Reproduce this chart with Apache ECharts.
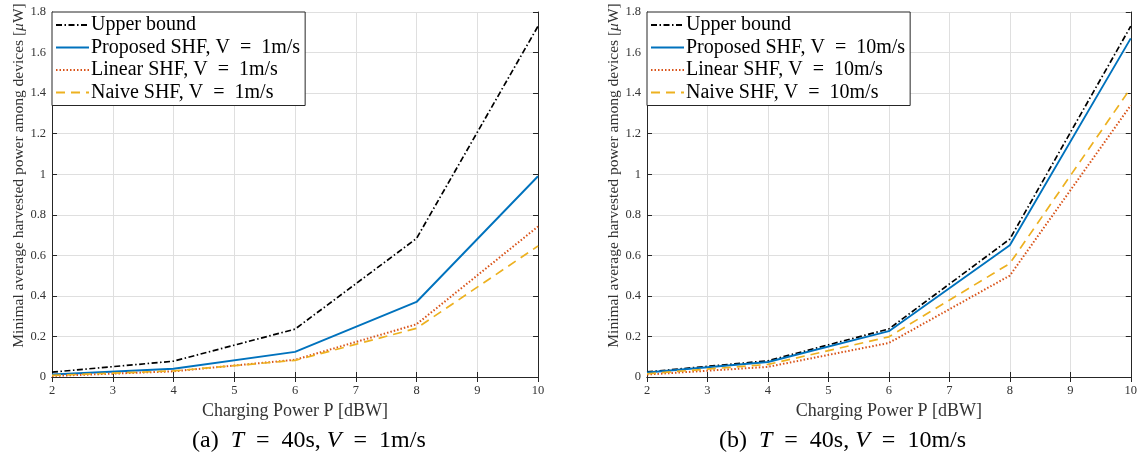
<!DOCTYPE html>
<html>
<head>
<meta charset="utf-8">
<script src="https://cdn.jsdelivr.net/npm/echarts@6/dist/echarts.min.js"></script>
<style>
html,body{margin:0;padding:0;background:#fff;}
#main{width:1140px;height:461px;}
</style>
</head>
<body>
<div id="main"></div>
<script>
// charging power P [dBW]
var power = [2, 4, 6, 8, 10];

// (a) V = 1m/s
var upperA    = [0.024, 0.078, 0.236, 0.683, 1.73];
var proposedA = [0.012, 0.041, 0.124, 0.37, 0.99];
var linearA   = [0.005, 0.028, 0.085, 0.26, 0.742];
var naiveA    = [0.008, 0.03, 0.082, 0.24, 0.646];

// (b) V = 10m/s
var upperB    = [0.025, 0.08, 0.237, 0.68, 1.73];
var proposedB = [0.022, 0.074, 0.226, 0.65, 1.67];
var linearB   = [0.012, 0.05, 0.168, 0.5, 1.34];
var naiveB    = [0.016, 0.062, 0.198, 0.56, 1.425];

var xTicks = [2, 3, 4, 5, 6, 7, 8, 9, 10];
var yTicks = [0, 0.2, 0.4, 0.6, 0.8, 1, 1.2, 1.4, 1.6, 1.8];

var FONT = 'Liberation Serif';
var C_BLUE = '#0072BD', C_ORANGE = '#D95319', C_YELLOW = '#EDB120';
var EQ = '\u2002=\u2002';   // latex-like spacing round "="

function pairs(ys){
	var out = [];
	for (var i = 0; i < power.length; i++) out.push([power[i], ys[i]]);
	return out;
}

function line(name, ys, idx, color, dash, w){
	return {
		name: name, type: 'line', xAxisIndex: idx, yAxisIndex: idx,
		data: pairs(ys), symbol: 'none', showSymbol: false, silent: true,
		lineStyle: {color: color, width: w || 1.7, type: dash},
		itemStyle: {color: color}
	};
}

function xAx(idx){
	return {
		type: 'value', gridIndex: idx, min: xTicks[0], max: xTicks[xTicks.length-1], interval: 1,
		name: 'Charging Power P [dBW]', nameLocation: 'middle', nameGap: 20,
		nameTextStyle: {fontFamily: FONT, fontSize: 18, color: '#333'},
		axisLine: {lineStyle: {color: '#262626', width: 1}},
		axisTick: {inside: true, length: 5, lineStyle: {color: '#262626'}},
		axisLabel: {fontFamily: FONT, fontSize: 12.5, color: '#333', margin: 7},
		splitLine: {show: true, lineStyle: {color: '#dfdfdf', width: 1}}
	};
}
function xTop(idx){
	return {
		type: 'value', gridIndex: idx, position: 'top', min: 2, max: 10, interval: 1,
		axisLine: {show: true, lineStyle: {color: '#262626', width: 1}},
		axisTick: {inside: true, length: 5, lineStyle: {color: '#262626'}},
		axisLabel: {show: false}, splitLine: {show: false}
	};
}
function yAx(idx){
	return {
		type: 'value', gridIndex: idx, min: yTicks[0], max: yTicks[yTicks.length-1], interval: 0.2,
		name: '{a|Minimal average harvested power among devices [}{i|μ}{a|W]}',
		nameLocation: 'middle', nameGap: 24, nameRotate: 90,
		nameTextStyle: {padding: [0, 0, 0, 38], rich: {
			a: {fontFamily: FONT, fontSize: 15.5, color: '#333'},
			i: {fontFamily: FONT, fontSize: 15.5, color: '#333', fontStyle: 'italic'}
		}},
		axisLine: {show: true, lineStyle: {color: '#262626', width: 1}},
		axisTick: {show: true, inside: true, length: 5, lineStyle: {color: '#262626'}},
		axisLabel: {fontFamily: FONT, fontSize: 12.5, color: '#333', margin: 6},
		splitLine: {show: true, lineStyle: {color: '#dfdfdf', width: 1}}
	};
}
function yRight(idx){
	return {
		type: 'value', gridIndex: idx, position: 'right', min: 0, max: 1.8, interval: 0.2,
		axisLine: {show: true, lineStyle: {color: '#262626', width: 1}},
		axisTick: {show: true, inside: true, length: 5, lineStyle: {color: '#262626'}},
		axisLabel: {show: false}, splitLine: {show: false}
	};
}
function legend(left, names){
	return {
		orient: 'vertical', left: left, top: 12,
		data: names, itemWidth: 33, itemHeight: 12, itemGap: 2.5,
		padding: [3, 5, 3, 3],
		backgroundColor: '#fff', borderColor: '#262626', borderWidth: 1,
		itemStyle: {opacity: 0},
		formatter: function(n){ return n.trim().replace(' = ', EQ); },
		textStyle: {fontFamily: FONT, fontSize: 20, color: '#000', padding: [0, 0, 0, -3]},
		selectedMode: false
	};
}

var DASHDOT = [6, 2.5, 1.5, 2.5], DOTTED = [1.5, 2], DASHED = [9, 6];

var myChart = echarts.init(document.getElementById('main'));
var option = {
	animation: false,
	backgroundColor: '#fff',
	grid: [
		{left: 52, right: 602, top: 12, bottom: 84},
		{left: 647, right: 7, top: 12, bottom: 84}
	],
	xAxis: [xAx(0), xAx(1), xTop(0), xTop(1)],
	yAxis: [yAx(0), yAx(1), yRight(0), yRight(1)],
	legend: [
		legend(52, ['Upper bound', 'Proposed SHF, V = 1m/s', 'Linear SHF, V = 1m/s', 'Naive SHF, V = 1m/s']),
		legend(647, ['Upper bound ', 'Proposed SHF, V = 10m/s', 'Linear SHF, V = 10m/s', 'Naive SHF, V = 10m/s'])
	],
	series: [
		line('Upper bound', upperA, 0, '#000', DASHDOT),
		line('Proposed SHF, V = 1m/s', proposedA, 0, C_BLUE, 'solid', 1.9),
		line('Linear SHF, V = 1m/s', linearA, 0, C_ORANGE, DOTTED, 2),
		line('Naive SHF, V = 1m/s', naiveA, 0, C_YELLOW, DASHED),
		line('Upper bound ', upperB, 1, '#000', DASHDOT),
		line('Proposed SHF, V = 10m/s', proposedB, 1, C_BLUE, 'solid', 1.9),
		line('Linear SHF, V = 10m/s', linearB, 1, C_ORANGE, DOTTED, 2),
		line('Naive SHF, V = 10m/s', naiveB, 1, C_YELLOW, DASHED)
	],
	graphic: [
		{type: 'text', left: 192, top: 429, style: {
			text: '(a)  {i|T}' + EQ + '40s, {i|V}' + EQ + '1m/s',
			font: '24px "Liberation Serif"', fill: '#000',
			rich: {i: {fontFamily: FONT, fontSize: 24, fontStyle: 'italic'}}
		}},
		{type: 'text', left: 719, top: 429, style: {
			text: '(b)  {i|T}' + EQ + '40s, {i|V}' + EQ + '10m/s',
			font: '24px "Liberation Serif"', fill: '#000',
			rich: {i: {fontFamily: FONT, fontSize: 24, fontStyle: 'italic'}}
		}}
	]
};
myChart.setOption(option);
</script>
</body>
</html>
